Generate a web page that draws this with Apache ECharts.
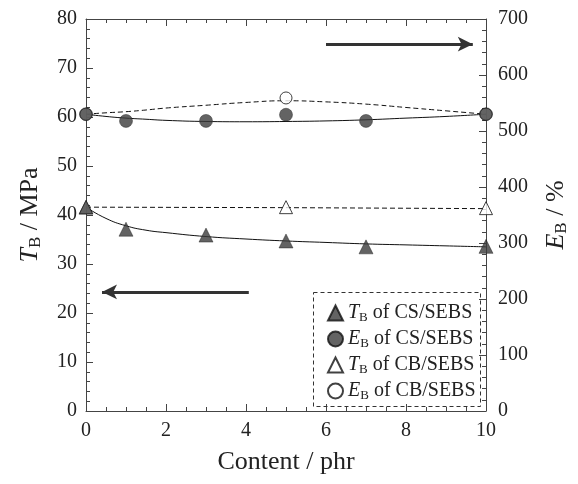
<!DOCTYPE html>
<html>
<head>
<meta charset="utf-8">
<script src="https://cdn.jsdelivr.net/npm/echarts@6/dist/echarts.min.js"></script>
<style>
html,body{margin:0;padding:0;background:#fff;}
#chart{width:578px;height:484px;}
</style>
</head>
<body>
<div id="chart"></div>
<script>
// ---- data ----
var contentCS = [0, 1, 3, 5, 7, 10];
var tbCS = [41.6, 37.1, 35.9, 34.7, 33.5, 33.6];
var ebCS = [530, 518, 518, 529, 518, 530];

var contentCB = [0, 5, 10];
var tbCB = [41.6, 41.6, 41.4];
var ebCB = [530, 559, 530];

// fitted curves
var fitX = [0, 0.5, 1, 1.5, 2, 3, 4, 5, 6, 7, 8, 9, 10];
var fitTbCS = [41.6, 39.3, 37.8, 36.9, 36.4, 35.6, 35.1, 34.7, 34.4, 34.1, 33.9, 33.7, 33.5];
var fitEbCS = [530, 526, 523, 521, 519, 517, 516.5, 517, 518, 520, 523, 526, 530];
var fitEbCB = [530, 532.5, 534.5, 537.5, 541, 546, 551, 554, 552, 548, 542, 536, 530];
var fitTbCBX = [0, 5, 10];
var fitTbCB = [41.6, 41.5, 41.3];

var xTicks = [0, 2, 4, 6, 8, 10];
var leftTicks = [0, 10, 20, 30, 40, 50, 60, 70, 80];
var rightTicks = [0, 100, 200, 300, 400, 500, 600, 700];

var legendNames = ['TB of CS/SEBS', 'EB of CS/SEBS', 'TB of CB/SEBS', 'EB of CB/SEBS'];
var legendRich = {
  'TB of CS/SEBS': '{i|T}{s|B}{n| of CS/SEBS}',
  'EB of CS/SEBS': '{i|E}{s|B}{n| of CS/SEBS}',
  'TB of CB/SEBS': '{i|T}{s|B}{n| of CB/SEBS}',
  'EB of CB/SEBS': '{i|E}{s|B}{n| of CB/SEBS}'
};

function pairs(xs, ys) { return xs.map(function (x, i) { return [x, ys[i]]; }); }

var FONT = 'Liberation Serif';
var TXT = '#222';
var AX = '#444';
var richBase = {
  i: {fontFamily: FONT, fontStyle: 'italic', fontSize: 20, color: TXT, verticalAlign: 'middle', lineHeight: 22},
  s: {fontFamily: FONT, fontSize: 13, color: TXT, verticalAlign: 'bottom', lineHeight: 14, padding: [8, 0, 0, 0]},
  n: {fontFamily: FONT, fontSize: 20, color: TXT, verticalAlign: 'middle', lineHeight: 22}
};
var richTitle = {
  i: {fontFamily: FONT, fontStyle: 'italic', fontSize: 26, color: TXT, lineHeight: 28},
  s: {fontFamily: FONT, fontSize: 17, color: TXT, lineHeight: 18, verticalAlign: 'bottom', padding: [10, 0, 0, 0]},
  n: {fontFamily: FONT, fontSize: 26, color: TXT, lineHeight: 28}
};

var chart = echarts.init(document.getElementById('chart'), null, {renderer: 'canvas'});

function axisCommon() {
  return {
    axisLine: {show: true, onZero: false, lineStyle: {color: AX, width: 1}},
    axisTick: {show: true, inside: true, length: 7, lineStyle: {color: AX}},
    minorTick: {show: true, length: 4, lineStyle: {color: AX}},
    splitLine: {show: false},
    axisLabel: {color: TXT, fontFamily: FONT, fontSize: 20}
  };
}

var xBottom = Object.assign(axisCommon(), {
  type: 'value', position: 'bottom', min: 0, max: 10, interval: 2,
  name: 'Content / phr', nameLocation: 'middle', nameGap: 38,
  nameTextStyle: {fontFamily: FONT, fontSize: 26, color: TXT},
  axisLabel: {color: TXT, fontFamily: FONT, fontSize: 20, margin: 10,
    formatter: function (v) { return xTicks.indexOf(v) >= 0 ? String(v) : ''; }}
});
xBottom.minorTick.splitNumber = 4;
var xTop = Object.assign(axisCommon(), {
  type: 'value', position: 'top', min: 0, max: 10, interval: 2
});
xTop.minorTick.splitNumber = 4;
xTop.axisLabel = {show: false};

var yLeft = Object.assign(axisCommon(), {
  type: 'value', position: 'left', min: 0, max: 80, interval: 10,
  name: '{i|T}{s|B}{n| / MPa}', nameLocation: 'middle', nameGap: 42, nameRotate: 90,
  nameTextStyle: {rich: richTitle}
});
yLeft.minorTick.splitNumber = 5;
yLeft.axisLabel.margin = 9;
yLeft.axisLabel.formatter = function (v) { return leftTicks.indexOf(v) >= 0 ? String(v) : ''; };

var yRight = Object.assign(axisCommon(), {
  type: 'value', position: 'right', min: 0, max: 700, interval: 100,
  name: '{i|E}{s|B}{n| / %}', nameLocation: 'middle', nameGap: 56, nameRotate: 90,
  nameTextStyle: {rich: richTitle}
});
yRight.minorTick.splitNumber = 5;
yRight.axisLabel.margin = 12;
yRight.axisLabel.formatter = function (v) { return rightTicks.indexOf(v) >= 0 ? String(v) : ''; };

var fillCol = '#3c3c3c';
var arrowStyle = {
  silent: true, symbol: ['none', 'arrow'], symbolSize: [11, 15], label: {show: false},
  lineStyle: {color: '#333', width: 3.2, type: 'solid'}, itemStyle: {color: '#333'}
};

var option = {
  animation: false,
  backgroundColor: '#fff',
  grid: {left: 86, right: 90, top: 19, bottom: 73, containLabel: false},
  xAxis: [xBottom, xTop],
  yAxis: [yLeft, yRight],
  legend: {
    data: legendNames,
    orient: 'vertical',
    left: 322, top: 298,
    itemWidth: 15, itemHeight: 15, itemGap: 5,
    formatter: function (n) { return legendRich[n]; },
    textStyle: {fontFamily: FONT, fontSize: 20, color: TXT, rich: richBase},
    selectedMode: false
  },
  graphic: [{
    type: 'rect', silent: true, z: 100,
    shape: {x: 313.5, y: 292.5, width: 167, height: 114},
    style: {fill: 'none', stroke: '#333', lineWidth: 1, lineDash: [4, 3]}
  }],
  series: [
    // fit lines
    {type: 'line', name: 'fitTbCS', xAxisIndex: 0, yAxisIndex: 0, data: pairs(fitX, fitTbCS),
      smooth: 0.5, showSymbol: false, symbol: 'none', lineStyle: {color: '#111', width: 1}, z: 1,
      markLine: Object.assign({data: [[{coord: [4.07, 24.3]}, {coord: [0.4, 24.3]}]]}, arrowStyle)},
    {type: 'line', name: 'fitTbCB', xAxisIndex: 0, yAxisIndex: 0, data: pairs(fitTbCBX, fitTbCB),
      showSymbol: false, symbol: 'none', lineStyle: {color: '#111', width: 1, type: [5, 3]}, z: 1},
    {type: 'line', name: 'fitEbCS', xAxisIndex: 0, yAxisIndex: 1, data: pairs(fitX, fitEbCS),
      smooth: 0.5, showSymbol: false, symbol: 'none', lineStyle: {color: '#111', width: 1}, z: 1,
      markLine: Object.assign({data: [[{coord: [6, 655]}, {coord: [9.67, 655]}]]}, arrowStyle)},
    {type: 'line', name: 'fitEbCB', xAxisIndex: 0, yAxisIndex: 1, data: pairs(fitX, fitEbCB),
      smooth: 0.5, showSymbol: false, symbol: 'none', lineStyle: {color: '#111', width: 1, type: [5, 3]}, z: 1},
    // CB points (underneath)
    {type: 'scatter', name: 'TB of CB/SEBS', xAxisIndex: 0, yAxisIndex: 0, data: pairs(contentCB, tbCB),
      symbol: 'triangle', symbolSize: 13, itemStyle: {color: '#fff', borderColor: '#111', borderWidth: 1}, z: 3},
    {type: 'scatter', name: 'EB of CB/SEBS', xAxisIndex: 0, yAxisIndex: 1, data: pairs(contentCB, ebCB),
      symbol: 'circle', symbolSize: 12, itemStyle: {color: '#fff', borderColor: '#111', borderWidth: 1}, z: 3},
    // CS points
    {type: 'scatter', name: 'TB of CS/SEBS', xAxisIndex: 0, yAxisIndex: 0, data: pairs(contentCS, tbCS),
      symbol: 'triangle', symbolSize: 14, itemStyle: {color: fillCol, borderColor: '#111', borderWidth: 0.5}, z: 4},
    {type: 'scatter', name: 'EB of CS/SEBS', xAxisIndex: 0, yAxisIndex: 1, data: pairs(contentCS, ebCS),
      symbol: 'circle', symbolSize: 13, itemStyle: {color: fillCol, borderColor: '#111', borderWidth: 0.5}, z: 4}
  ]
};
chart.setOption(option);
</script>
</body>
</html>
